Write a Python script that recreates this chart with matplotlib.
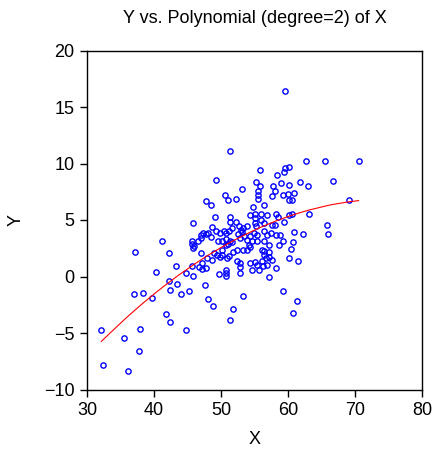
import numpy as np
import matplotlib
matplotlib.use("Agg")
import matplotlib.pyplot as plt

plt.rcParams['font.family'] = ['Liberation Sans', 'DejaVu Sans']

title = "Y vs. Polynomial (degree=2) of X"
x_label = "X"
y_label = "Y"
x_ticks = [30, 40, 50, 60, 70, 80]
y_ticks = [-10, -5, 0, 5, 10, 15, 20]

# upper / outer points
x_outer = [59.56, 51.34, 62.70, 65.59, 70.53, 55.87, 60.21, 59.56, 59.46, 66.79,
           49.19, 55.17, 58.32, 59.01, 61.77, 63.0, 60.21, 57.7, 55.87, 53.08,
           55.5, 55.5, 58.1, 50.64, 57.57, 59.2, 60.06, 60.9, 55.5, 50.99,
           52.19, 47.8, 60.16, 60.55, 69.13, 48.54, 56.42, 54.83,
           60.21, 60.66, 63.15, 65.79, 65.99, 62.3, 60.96, 60.21, 60.41, 61.56, 60.71,
           41.17, 37.23, 42.31, 40.37, 43.26, 44.71, 45.80, 42.21, 43.46, 42.41,
           36.98, 38.42, 39.67, 44.01, 45.20, 47.65, 48.0, 48.74, 51.83, 53.23,
           51.34, 41.76, 42.46, 44.76, 37.88, 35.48, 32.14, 37.73, 32.34, 36.13,
           59.31, 61.31, 60.76]
y_outer = [16.44, 11.14, 10.19, 10.19, 10.19, 9.39, 9.68, 9.59, 9.27, 8.47,
           8.53, 8.32, 8.94, 8.29, 8.35, 8.0, 8.11, 8.02, 8.02, 7.76,
           7.55, 7.19, 7.6, 7.19, 7.1, 7.19, 7.28, 7.4, 6.9, 6.78,
           6.87, 6.69, 6.75, 6.78, 6.78, 6.33, 6.33, 6.12,
           5.41, 5.5, 5.5, 4.58, 3.75, 3.75, 3.96, 1.68, 2.39, 1.41, 3.07,
           3.10, 2.18, 2.06, 0.40, 0.94, 0.28, 0.08, -0.43, -0.63, -1.17,
           -1.55, -1.46, -1.88, -1.52, -1.26, -0.75, -1.97, -2.65, -2.92, -1.73,
           -3.87, -3.33, -4.07, -4.76, -4.61, -5.41, -4.76, -6.56, -7.87, -8.34,
           -1.32, -2.18, -3.27]

# dense central cluster
x_dense = [45.75, 49.1, 51.4, 54.3, 55.0, 56.0, 56.9, 58.2, 58.5, 55.0,
           56.4, 55.1, 55.9, 55.2, 57.6, 58.0, 59.4, 48.7, 49.3, 50.4,
           49.9, 50.7, 51.2, 51.7, 52.2, 51.4, 52.7, 53.0, 53.3, 53.9,
           53.1, 52.6, 47.3, 47.7, 47.05, 48.0, 48.5, 47.0, 46.6, 45.7,
           45.6, 46.0, 45.8, 49.6, 50.2, 50.8, 51.3, 50.7, 51.0, 51.7,
           52.8, 53.4, 53.9, 54.3, 54.6, 54.9, 55.3, 56.4, 56.9, 57.4,
           58.2, 58.8, 59.2, 58.7, 57.2, 56.4, 55.4, 54.2, 54.4, 53.9,
           53.3, 52.4, 51.8, 50.2, 48.9, 49.4, 49.8, 50.2, 51.2, 50.9,
           48.6, 47.9, 47.2, 46.7, 47.2, 47.7, 45.6, 56.1, 56.4, 57.2,
           56.4, 56.7, 57.2, 57.6, 56.1, 55.0, 54.4, 52.4, 52.9, 52.8,
           54.6, 55.7, 55.4, 56.2, 56.8, 58.2, 57.1, 50.7, 50.7, 50.7,
           49.7, 52.9, 47.0]
y_dense = [4.70, 5.29, 5.29, 5.41, 5.53, 5.53, 5.41, 5.53, 5.29, 5.18,
           4.73, 4.73, 4.97, 4.44, 4.58, 4.58, 4.82, 4.38, 3.99, 4.05,
           3.84, 3.84, 4.05, 4.26, 4.82, 4.82, 4.44, 4.14, 4.26, 4.44,
           3.90, 3.75, 3.84, 3.75, 3.69, 3.84, 3.49, 3.37, 3.16, 3.16,
           2.89, 2.71, 2.51, 3.10, 3.16, 3.31, 3.16, 2.80, 2.89, 3.04,
           3.40, 3.55, 3.25, 3.55, 3.16, 3.84, 3.69, 3.99, 3.63, 3.84,
           3.63, 3.63, 3.10, 2.80, 2.80, 3.10, 3.16, 2.80, 2.57, 2.36,
           2.36, 2.36, 2.21, 2.36, 2.06, 1.92, 1.71, 1.86, 1.83, 1.62,
           1.47, 1.62, 1.17, 0.88, 0.70, 0.79, 0.97, 2.36, 2.30, 2.21,
           1.92, 1.62, 1.71, 1.47, 1.41, 1.32, 1.17, 1.41, 1.17, 0.88,
           0.58, 0.58, 1.03, 0.97, 1.03, 0.79, -0.01, 0.58, 0.28, 0.05,
           0.19, 0.28, 2.1]

x = np.array(x_outer + x_dense)
y = np.array(y_outer + y_dense)

coef = np.polyfit(x, y, 2)
xs = np.sort(x)
ys = np.polyval(coef, xs)

fig = plt.figure(figsize=(4.33, 4.5), dpi=100)
ax = fig.add_axes([87 / 433, 1 - 389.5 / 450, 335 / 433, 339 / 450])

ax.plot(x, y, linestyle='none', marker='o', markersize=3.8, markeredgewidth=1.0,
        markerfacecolor='none', markeredgecolor='#0000ff')
ax.plot(xs, ys, color='#ff0000', linewidth=0.8)

ax.set_xlim(30, 80)
ax.set_ylim(-10, 20)
ax.set_xticks(x_ticks)
ax.set_yticks(y_ticks)
ax.tick_params(direction='out', length=5, width=1.0, labelsize=13, pad=4)
for s in ax.spines.values():
    s.set_linewidth(1.0)

ax.set_title(title, fontsize=13, pad=20)
ax.set_xlabel(x_label, fontsize=13, labelpad=9)
ax.set_ylabel(y_label, fontsize=13, labelpad=14)

fig.savefig("out.png", dpi=100)
